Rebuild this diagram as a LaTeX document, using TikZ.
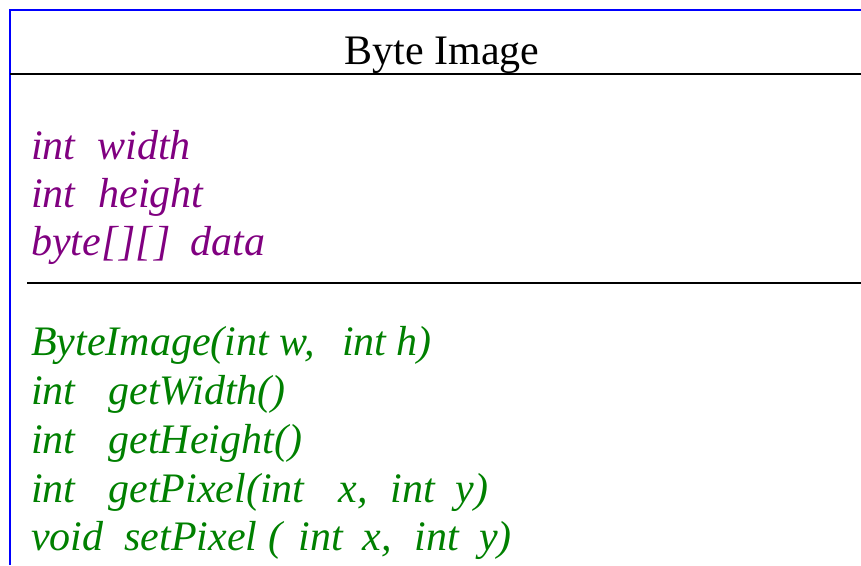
\documentclass[tikz,border=0pt]{standalone}
\usepackage{fontspec}
\setmainfont{Liberation Serif}
\definecolor{attrcol}{RGB}{128,0,128}
\definecolor{opcol}{RGB}{0,128,0}
\definecolor{framecol}{RGB}{0,0,255}
\begin{document}
\begin{tikzpicture}[x=1pt,y=-1pt,
  txt/.style={anchor=base west,inner sep=0pt,font=\fontsize{42}{48}\selectfont\itshape},
  attr/.style={txt,text=attrcol},
  op/.style={txt,text=opcol},
  rule/.style={line width=2.2pt,black}]
\useasboundingbox (0,0) rectangle (861,565);
% class frame (top and left edges)
\draw[framecol,line width=2.4pt] (10,565) -- (10,10) -- (861,10);
% compartment separators
\coordinate (s1l) at (10,74);  \coordinate (s1r) at (861,74);
\coordinate (s2l) at (27,283); \coordinate (s2r) at (861,283);
\draw[rule] (s1l) -- (s1r);
\draw[rule] (s2l) -- (s2r);
% class name
\node[anchor=base,inner sep=0pt,font=\fontsize{42}{48}\selectfont] (title) at (442,64) {Byte Image};
% attributes
\node[attr] (a1) at (31,159) {int\hspace{22pt}width};
\node[attr] (a2) at (31,207) {int\hspace{23pt}height};
\node[attr] (a3) at (31,255) {byte[\hspace{2pt}][\hspace{2pt}]\hspace{20pt}data};
% operations
\node[op] (m1) at (31,355) {ByteImage(int w,\hspace{27pt}int h)};
\node[op] (m2) at (31,404) {int\hspace{33pt}getWidth()};
\node[op] (m3) at (31,453) {int\hspace{33pt}getHeight()};
\node[op] (m4) at (31,502) {int\hspace{33pt}getPixel(int\hspace{34pt}x,\hspace{23pt}int\hspace{21pt}y)};
\node[op] (m5) at (31,550) {void\hspace{21pt}setPixel\hspace{11pt}(\hspace{16pt}int\hspace{20pt}x,\hspace{23pt}int\hspace{20pt}y)};
\end{tikzpicture}
\end{document}
